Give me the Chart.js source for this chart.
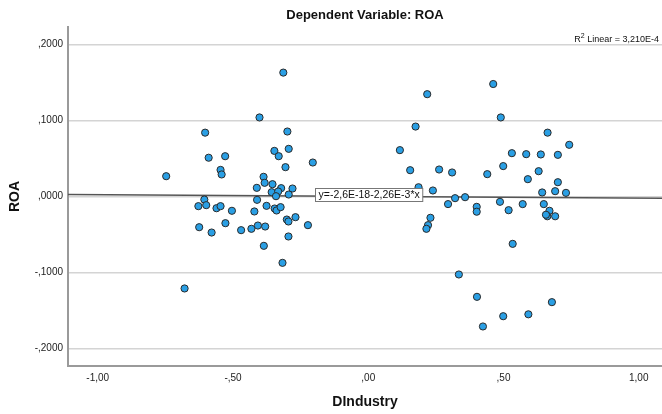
<!DOCTYPE html>
<html><head><meta charset="utf-8">
<script src="https://cdn.jsdelivr.net/npm/chart.js@4/dist/chart.umd.min.js"></script>
<style>html,body{margin:0;padding:0;background:#fff}#wrap{width:662px;height:414px}</style>
</head><body><div id="wrap"><canvas id="c" width="662" height="414"></canvas></div>
<script>
const chartTitle = 'Dependent Variable: ROA';
const xAxisTitle = 'DIndustry';
const yAxisTitle = 'ROA';
const dindustry = [
  -0.747,-0.603,-0.590,-0.529,-0.546,-0.542,-0.402,-0.314,-0.299,-0.347,-0.331,-0.294,-0.306,-0.205,
  -0.387,-0.383,-0.412,-0.354,-0.322,-0.280,-0.357,-0.333,-0.341,-0.294,-0.606,-0.628,-0.599,-0.561,
  -0.546,-0.504,-0.411,-0.421,-0.376,-0.346,-0.339,-0.324,-0.625,-0.579,-0.528,-0.470,-0.432,-0.408,
  -0.381,-0.301,-0.295,-0.269,-0.223,-0.295,-0.386,-0.317,-0.679,
  0.218,0.462,0.175,0.490,0.663,0.743,0.117,0.155,0.262,0.310,0.440,0.499,0.531,0.584,0.638,0.701,
  0.630,0.590,0.701,0.186,0.239,0.643,0.691,0.731,0.321,0.358,0.295,0.401,0.401,0.487,0.519,0.571,
  0.649,0.670,0.662,0.657,0.691,0.230,0.221,0.215,0.534,0.335,0.402,0.424,0.499,0.592,0.679
];
const roa = [
  0.0267,0.0840,0.0510,0.0530,0.0350,0.0290,0.1040,0.1630,0.0855,0.0600,0.0530,0.0627,0.0386,0.0447,
  0.0259,0.0180,0.0114,0.0162,0.0110,0.0105,0.0057,0.0066,0.0004,0.0026,-0.0040,-0.0127,-0.0114,-0.0154,
  -0.0127,-0.0188,-0.0044,-0.0197,-0.0123,-0.0158,-0.0184,-0.0140,-0.0404,-0.0474,-0.0351,-0.0443,-0.0425,-0.0382,
  -0.0395,-0.0303,-0.0329,-0.0272,-0.0377,-0.0526,-0.0649,-0.0873,-0.1210,
  0.1346,0.1480,0.0920,0.1040,0.0840,0.0680,0.0610,0.0346,0.0355,0.0316,0.0294,0.0400,0.0570,0.0557,0.0553,0.0548,
  0.0333,0.0228,0.0188,0.0122,0.0079,0.0053,0.0070,0.0048,-0.0022,-0.0009,-0.0100,-0.0136,-0.0200,-0.0070,-0.0180,-0.0100,
  -0.0100,-0.0188,-0.0260,-0.0240,-0.0260,-0.0280,-0.0377,-0.0425,-0.0623,-0.1026,-0.1320,-0.1710,-0.1575,-0.1550,-0.1390
];
const xTickValues = [-1, -0.5, 0, 0.5, 1];
const yTickValues = [-0.2, -0.1, 0, 0.1, 0.2];
const fitIntercept = -2.6e-18;
const fitSlope = -2.26e-3;
const rSquaredValue = '3,210E-4';
const equationText = 'y=-2,6E-18-2,26E-3*x';

const FAMILY = "'Liberation Sans', Arial, sans-serif";
const X_MIN = -1.11, X_MAX = 1.086, Y_MIN = -0.223, Y_MAX = 0.223;

function fmt(v, d) {
  let s = Math.abs(v).toFixed(d).replace('.', ',');
  if (s.startsWith('0,')) s = s.slice(1);
  return (v < 0 ? '-' : '') + s;
}

const labelsPlugin = {
  id: 'labels',
  afterDatasetsDraw(chart) {
    const ctx = chart.ctx, xs = chart.scales.x, ys = chart.scales.y, area = chart.chartArea;
    ctx.save();
    // equation label
    ctx.font = '10.5px ' + FAMILY;
    const w = ctx.measureText(equationText).width + 6;
    const cx = xs.getPixelForValue(0);
    const ly = ys.getPixelForValue(fitIntercept);
    const bx = Math.round(cx - w / 2) + 0.5, by = Math.round(ly - 9) + 0.5, bh = 13;
    ctx.fillStyle = '#fff';
    ctx.fillRect(bx, by, w, bh);
    ctx.strokeStyle = '#777';
    ctx.lineWidth = 1;
    ctx.strokeRect(bx, by, w, bh);
    ctx.fillStyle = '#111';
    ctx.textBaseline = 'middle';
    ctx.textAlign = 'left';
    ctx.fillText(equationText, bx + 3, by + bh / 2 + 0.5);
    // R squared label
    const rest = ' Linear = ' + rSquaredValue;
    ctx.font = '9px ' + FAMILY;
    const wRest = ctx.measureText(rest).width;
    const wR = ctx.measureText('R').width;
    ctx.font = '7px ' + FAMILY;
    const wSup = ctx.measureText('2').width;
    const right = area.right - 3;
    const base = area.top + 15;
    ctx.textBaseline = 'alphabetic';
    const x0 = right - wRest - wSup - wR;
    ctx.font = '9px ' + FAMILY;
    ctx.fillText('R', x0, base);
    ctx.font = '7px ' + FAMILY;
    ctx.fillText('2', x0 + wR, base - 4);
    ctx.font = '9px ' + FAMILY;
    ctx.fillText(rest, x0 + wR + wSup, base);
    // title
    ctx.font = 'bold 13px ' + FAMILY;
    ctx.textAlign = 'center';
    ctx.textBaseline = 'middle';
    ctx.fillText(chartTitle, (area.left + area.right) / 2, 15);
    ctx.restore();
  }
};

new Chart(document.getElementById('c'), {
  type: 'scatter',
  data: {
    datasets: [
      {
        type: 'scatter',
        data: dindustry.map((x, i) => ({ x: x, y: roa[i] })),
        backgroundColor: '#2a9fe4',
        borderColor: '#2a2a2a',
        borderWidth: 1,
        pointRadius: 3.6,
        order: 1
      },
      {
        type: 'line',
        data: [X_MIN, X_MAX].map(x => ({ x: x, y: fitIntercept + fitSlope * x })),
        borderColor: '#555',
        borderWidth: 1.5,
        pointRadius: 0,
        fill: false,
        order: 2
      }
    ]
  },
  options: {
    responsive: false,
    animation: false,
    devicePixelRatio: 1,
    layout: { autoPadding: false, padding: { top: 27, right: 0, left: 0, bottom: 0 } },
    plugins: { legend: { display: false }, tooltip: { enabled: false } },
    scales: {
      x: {
        type: 'linear', min: X_MIN, max: X_MAX,
        afterBuildTicks: s => { s.ticks = xTickValues.map(v => ({ value: v })); },
        afterFit: s => { s.height = 48; },
        grid: { display: false, drawTicks: false },
        border: { display: true, color: '#9a9a9a', width: 2 },
        ticks: { padding: 6, font: { size: 10, family: FAMILY }, color: '#222', maxRotation: 0, autoSkip: false, callback: v => fmt(v, 2) },
        title: { display: true, text: xAxisTitle, font: { size: 14, weight: 'bold', family: FAMILY }, color: '#111', padding: 3 }
      },
      y: {
        type: 'linear', min: Y_MIN, max: Y_MAX,
        afterBuildTicks: s => { s.ticks = yTickValues.map(v => ({ value: v })); },
        afterFit: s => { s.width = 68; },
        grid: { display: true, color: '#d4d4d4', lineWidth: 1.5, drawTicks: false },
        border: { display: true, color: '#9a9a9a', width: 2 },
        ticks: { padding: 5, font: { size: 10, family: FAMILY }, color: '#222', autoSkip: false, callback: v => fmt(v, 4) },
        title: { display: true, text: yAxisTitle, font: { size: 14, weight: 'bold', family: FAMILY }, color: '#111', padding: 6.5 }
      }
    }
  },
  plugins: [labelsPlugin]
});
</script>
</body></html>
